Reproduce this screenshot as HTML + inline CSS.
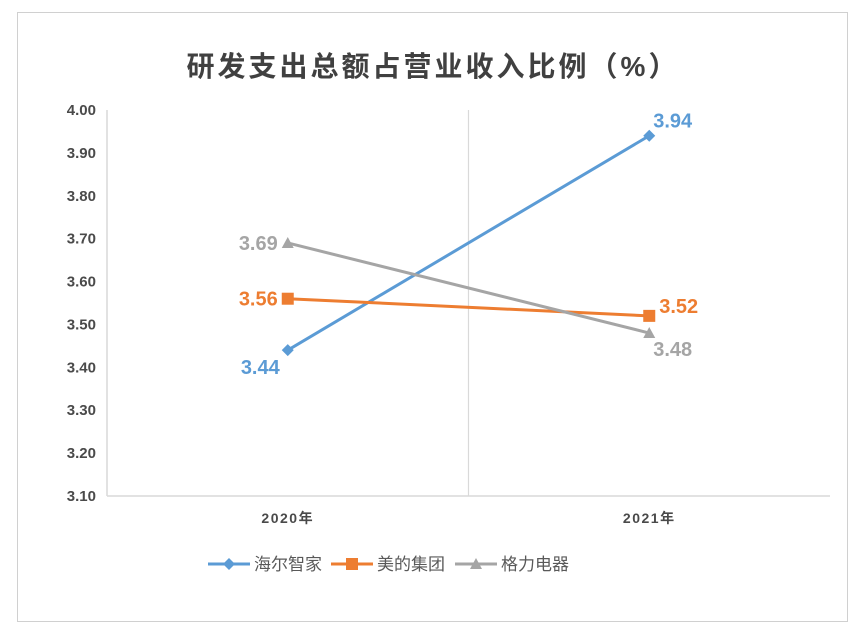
<!DOCTYPE html>
<html><head><meta charset="utf-8"><style>
body{margin:0;background:#fff;}
svg text{font-family:"Liberation Sans","Noto Sans CJK SC",sans-serif;}
</style></head><body>
<svg id="chart" width="855" height="630" xmlns="http://www.w3.org/2000/svg">
<rect x="17.5" y="12.5" width="830" height="609" fill="#fff" stroke="#d0d0d0"/>
<text x="433" y="76" text-anchor="middle" font-size="28" font-weight="bold" fill="#404040" letter-spacing="3">研发支出总额占营业收入比例（%）</text>
<g id="plot"></g>
</svg>
<script>
const categories=["2020年","2021年"];
const seriesNames=["海尔智家","美的集团","格力电器"];
const haier=[3.44,3.94];
const midea=[3.56,3.52];
const gree=[3.69,3.48];
const yTicks=[3.10,3.20,3.30,3.40,3.50,3.60,3.70,3.80,3.90,4.00];
const colors=["#5b9bd5","#ed7d31","#a5a5a5"];
const NS="http://www.w3.org/2000/svg";
const g=document.getElementById('plot');
const x0=107,x1=830,yTop=110,yBot=496,yMin=3.1,yMax=4.0;
const bw=(x1-x0)/categories.length;
const xs=i=>x0+bw*(i+0.5);
const ys=v=>yBot-(v-yMin)/(yMax-yMin)*(yBot-yTop);
function mk(t,a,p){const e=document.createElementNS(NS,t);for(const k in a)e.setAttribute(k,a[k]);(p||g).appendChild(e);return e;}
let e=mk('line',{x1:x0,y1:yTop,x2:x0,y2:yBot,stroke:'#d9d9d9','stroke-width':1.5});


e=mk('line',{x1:x0,y1:yBot,x2:x1,y2:yBot,stroke:'#d9d9d9','stroke-width':1.5});


for(let i=1;i<categories.length;i++){
 e=mk('line',{x1:x0+bw*i,y1:yTop,x2:x0+bw*i,y2:yBot,stroke:'#d9d9d9','stroke-width':1.2});
 
 
}
yTicks.forEach(v=>{
 const t=mk('text',{x:96,y:ys(v)+5,'text-anchor':'end','font-size':15,'font-weight':'bold',fill:'#4a4a4a'});
 t.textContent=v.toFixed(2);
 
 
});
categories.forEach((c,i)=>{
 const t=mk('text',{x:xs(i),y:523,'text-anchor':'middle','font-size':14,'font-weight':'bold',fill:'#4a4a4a','letter-spacing':1.5});
 t.textContent=c;
 
 
});
function marker(type,cx,cy,col,name){
 let m;
 if(type===0)m=mk('polygon',{points:`${cx},${cy-6} ${cx+6},${cy} ${cx},${cy+6} ${cx-6},${cy}`,fill:col});
 else if(type===1)m=mk('rect',{x:cx-6,y:cy-6,width:12,height:12,fill:col});
 else m=mk('polygon',{points:`${cx},${cy-6} ${cx+6},${cy+5} ${cx-6},${cy+5}`,fill:col});
 
 
}
const all=[haier,midea,gree];
const lab=[[[-8,24,'end'],[4,-8,'start']],[[-10,7,'end'],[10,-3,'start']],[[-10,7,'end'],[4,23,'start']]];
all.forEach((s,si)=>{
 const pts=s.map((v,i)=>xs(i)+','+ys(v)).join(' ');
 const l=mk('polyline',{points:pts,fill:'none',stroke:colors[si],'stroke-width':3});
 
 
 s.forEach((v,i)=>{
  marker(si,xs(i),ys(v),colors[si],'point-'+(si+1)+'-'+(i+1));
  const o=lab[si][i];
  const t=mk('text',{x:xs(i)+o[0],y:ys(v)+o[1],'text-anchor':o[2],'font-size':20,'font-weight':'bold',fill:colors[si]});
  t.textContent=v.toFixed(2);
  
  
 });
});
const lx=[208,331,455];
seriesNames.forEach((n,i)=>{
 const y=564;
 const l=mk('line',{x1:lx[i],y1:y,x2:lx[i]+42,y2:y,stroke:colors[i],'stroke-width':3});
 
 
 marker(i,lx[i]+21,y,colors[i],'legend-marker');
 const t=mk('text',{x:lx[i]+46,y:y+6,'font-size':17,fill:'#595959'});
 t.textContent=n;
 
 
});
</script>
</body></html>
